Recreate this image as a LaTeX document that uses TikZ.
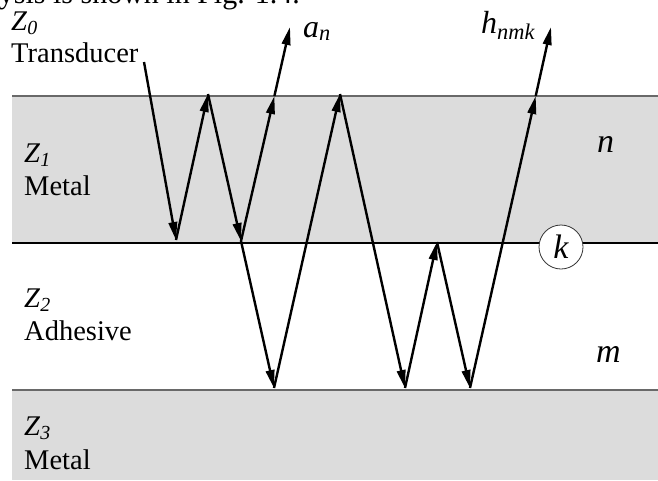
\documentclass[tikz,border=0pt]{standalone}
\usepackage{fontspec}
\setmainfont{Liberation Serif}
\usetikzlibrary{arrows.meta}
\definecolor{bandfill}{RGB}{220,220,220}
\definecolor{edgegray}{RGB}{105,105,105}
\begin{document}
\begin{tikzpicture}[x=1pt,y=-1pt,
  ray/.style={line width=2.4pt, -{Triangle[length=18pt,width=8.5pt]}},
  lbl/.style={anchor=base west, inner sep=0pt, font=\fontsize{28.5}{30}\selectfont},
  sym/.style={anchor=base west, inner sep=0pt, font=\fontsize{34}{36}\selectfont\itshape},
  outlbl/.style={anchor=base west, inner sep=0pt, font=\fontsize{32}{34}\selectfont\itshape},
  band/.style={fill=bandfill},
  topedge/.style={draw=edgegray, line width=1.6pt},
  midedge/.style={draw=black, line width=1.3pt},
  botedge/.style={draw=edgegray, line width=2.2pt}]
\useasboundingbox (0,0) rectangle (658,480);
\clip (0,0) rectangle (658,480);
\fill[white] (0,0) rectangle (658,480);
% layers
\fill[band] (12,96) rectangle (658,243);
\fill[band] (12,390) rectangle (658,480);
\draw[topedge] (12,96) -- (658,96);
\draw[midedge] (12,243) -- (658,243);
\draw[botedge] (12,390) -- (658,390);
% clipped text line above the figure
\node[anchor=base east, inner sep=0pt, font=\fontsize{30}{32}\selectfont] (cut) at (300,3) {lysis is shown in Fig. 1.4.};
% labels
\node[lbl] (z0) at (11,30) {\textit{Z}\textsubscript{\textit{0}}};
\node[lbl] (trans) at (11,62) {Transducer};
\node[lbl] (z1) at (24,162) {\textit{Z}\textsubscript{\textit{1}}};
\node[lbl] (met1) at (24,195) {Metal};
\node[lbl] (z2) at (24,307) {\textit{Z}\textsubscript{\textit{2}}};
\node[lbl] (adh) at (24,340) {Adhesive};
\node[lbl] (z3) at (24,435) {\textit{Z}\textsubscript{\textit{3}}};
\node[lbl] (met3) at (24,469) {Metal};
\node[outlbl] (an) at (303,37) {a\textsubscript{n}};
\node[outlbl] (hn) at (481,33) {h\textsubscript{nmk}};
\node[sym] (nl) at (597,152) {n};
\node[sym] (ml) at (596,362) {m};
% ray points
\coordinate (src) at (144,62);
\coordinate (A) at (176,240);
\coordinate (B) at (208,94);
\coordinate (C) at (241,241);
\coordinate (D) at (274,388);
\coordinate (F) at (340,94);
\coordinate (G) at (405,388);
\coordinate (H) at (437,242);
\coordinate (I) at (470,388);
\coordinate (M1) at (274.4,96);
\coordinate (AN) at (290,27);
\coordinate (M2) at (535.7,96);
\coordinate (HN) at (551,27);
% rays
\draw[ray] (src) -- (A);
\draw[ray] (A) -- (B);
\draw[ray] (B) -- (C);
\draw[ray] (C) -- (D);
\draw[ray] (C) -- (M1);
\draw[ray] (M1) -- (AN);
\draw[ray] (D) -- (F);
\draw[ray] (F) -- (G);
\draw[ray] (G) -- (H);
\draw[ray] (H) -- (I);
\draw[ray] (I) -- (M2);
\draw[ray] (M2) -- (HN);
% interface marker
\node[circle, draw=black!80, fill=white, line width=0.8pt, minimum size=44pt, inner sep=0pt,
      font=\fontsize{34}{36}\selectfont\itshape] (k) at (561,247) {k};
\end{tikzpicture}
\end{document}
